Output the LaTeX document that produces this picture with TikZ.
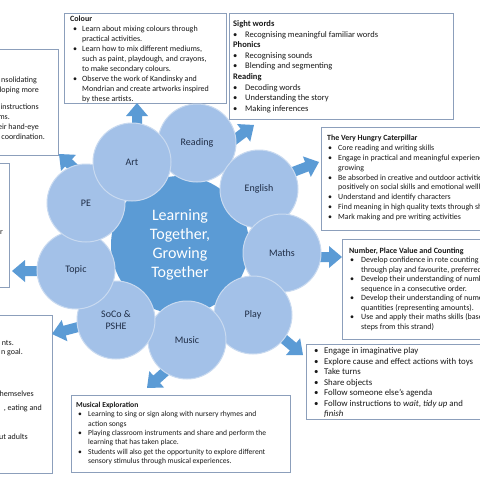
\documentclass[tikz,border=0pt]{standalone}
\usepackage{fontspec}
\setmainfont{Carlito}
\definecolor{boxline}{HTML}{8C9FBB}
\definecolor{arrowc}{HTML}{5B9BD5}
\definecolor{bigc}{HTML}{5B9BD5}
\definecolor{smallc}{HTML}{A3C1E8}
\definecolor{smallline}{HTML}{C9DAF0}
\definecolor{lbl}{HTML}{1F2D46}
\newcommand\Bul[2]{\hspace*{#1}\makebox[#2][l]{\textbullet}}
\newcommand\Ind[1]{\hspace*{#1}}
\tikzset{
 frame/.style={draw=boxline, line width=0.9pt, fill=white, inner sep=0, anchor=north west},
 txt/.style={anchor=north west, inner sep=0, align=left, text=black!90},
 frag/.style={anchor=base east, inner sep=0, text=black!90, font=\fontsize{8}{10}\selectfont},
 petal/.style={circle, minimum size=78pt, inner sep=0, fill=smallc, draw=smallline, line width=1pt, text=lbl, font=\fontsize{10}{11.5}\selectfont, align=center},
 hub/.style={circle, minimum size=138pt, inner sep=0, fill=bigc, text=white, font=\fontsize{16}{19}\selectfont, align=center},
 pics/barrow/.style={code={\fill[arrowc] (-#1,-5) -- (-13,-5) -- (-13,-11) -- (0,0) -- (-13,11) -- (-13,5) -- (-#1,5) -- cycle;}},
}
\begin{document}
\begin{tikzpicture}[x=1pt,y=-1pt]
\useasboundingbox (0,0) rectangle (480,480);
\clip (0,0) rectangle (480,480);
\fill[white] (0,0) rectangle (480,480);

% ---------- boxes ----------
\node[frame, minimum width=68pt, minimum height=106pt] (peBox) at (-10,49) {};
\node[frame, minimum width=19pt, minimum height=124pt] (topicBox) at (-10,163) {};
\node[frame, minimum width=62pt, minimum height=158pt] (socoBox) at (-10,315) {};
\node[frame, minimum width=162pt, minimum height=90pt] (colourBox) at (64,13) {};
\node[frame, minimum width=224pt, minimum height=106pt] (readBox) at (229,13) {};
\node[frame, minimum width=169pt, minimum height=103pt] (engBox) at (321,127) {};
\node[frame, minimum width=148pt, minimum height=100pt] (mathsBox) at (342,239) {};
\node[frame, minimum width=184pt, minimum height=75pt] (playBox) at (306,344) {};
\node[frame, minimum width=219pt, minimum height=77pt] (musicBox) at (71,395) {};

% ---------- box texts ----------
\node[frag] (pe1) at (37,82.5) {nsolidating};
\node[frag] (pe2) at (39,92) {loping more};
\node[frag] (pe3) at (39,109.5) {instructions};
\node[frag] (pe4) at (10,119) {ms.};
\node[frag] (pe5) at (39,129) {eir hand-eye};
\node[frag] (pe6) at (45,139) {coordination.};
\node[frag] (tp1) at (3,234.5) {r};
\node[frag] (sc1) at (14,345.5) {nts.};
\node[frag] (sc2) at (23,354.5) {n goal.};
\node[frag] (sc3) at (34,396.5) {hemselves};
\node[frag] (sc4) at (42,410.5) {, eating and};
\node[frag] (sc5) at (28,439.5) {ut adults};

\node[txt, font=\fontsize{8}{10}\selectfont] (colourTxt) at (70,15.6) {%
\textbf{Colour}\\
\Bul{3pt}{9pt}Learn about mixing colours through\\
\Ind{12pt}practical activities.\\
\Bul{3pt}{9pt}Learn how to mix different mediums,\\
\Ind{12pt}such as paint, playdough, and crayons,\\
\Ind{12pt}to make secondary colours.\\
\Bul{3pt}{9pt}Observe the work of Kandinsky and\\
\Ind{12pt}Mondrian and create artworks inspired\\
\Ind{12pt}by these artists.};

\node[txt, font=\fontsize{8.5}{10.6}\selectfont] (readTxt) at (233,20.4) {%
\textbf{Sight words}\\
\Bul{0pt}{12pt}Recognising meaningful familiar words\\
\textbf{Phonics}\\
\Bul{0pt}{12pt}Recognising sounds\\
\Bul{0pt}{12pt}Blending and segmenting\\
\textbf{Reading}\\
\Bul{0pt}{12pt}Decoding words\\
\Bul{0pt}{12pt}Understanding the story\\
\Bul{0pt}{12pt}Making inferences};

\node[txt, font=\fontsize{7.9}{9.9}\selectfont] (engTxt) at (327,134.7) {%
\textbf{The Very Hungry Caterpillar}\\
\Bul{1pt}{10pt}Core reading and writing skills\\
\Bul{1pt}{10pt}Engage in practical and meaningful experiences related to\\
\Ind{11pt}growing\\
\Bul{1pt}{10pt}Be absorbed in creative and outdoor activities which impact\\
\Ind{11pt}positively on social skills and emotional wellbeing\\
\Bul{1pt}{10pt}Understand and identify characters\\
\Bul{1pt}{10pt}Find meaning in high quality texts through shared reading\\
\Bul{1pt}{10pt}Mark making and pre writing activities};

\node[txt, font=\fontsize{8}{9.5}\selectfont] (mathsTxt) at (349,247.6) {%
\textbf{Number, Place Value and Counting}\\
\Bul{1pt}{11pt}Develop confidence in rote counting\\
\Ind{12pt}through play and favourite, preferred activities\\
\Bul{1pt}{11pt}Develop their understanding of number\\
\Ind{12pt}sequence in a consecutive order.\\
\Bul{1pt}{11pt}Develop their understanding of numerical\\
\Ind{12pt}quantities (representing amounts).\\
\Bul{1pt}{11pt}Use and apply their maths skills (based on\\
\Ind{12pt}steps from this strand)};

\node[txt, font=\fontsize{8.8}{10.5}\selectfont] (playTxt) at (314,347.3) {%
\Bul{0pt}{10pt}Engage in imaginative play\\
\Bul{0pt}{10pt}Explore cause and effect actions with toys\\
\Bul{0pt}{10pt}Take turns\\
\Bul{0pt}{10pt}Share objects\\
\Bul{0pt}{10pt}Follow someone else’s agenda\\
\Bul{0pt}{10pt}Follow instructions to \textit{wait}, \textit{tidy up} and\\
\Ind{10pt}\textit{finish}};

\node[txt, font=\fontsize{7.6}{9.33}\selectfont] (musicTxt) at (76,401.8) {%
\textbf{Musical Exploration}\\
\Bul{2pt}{10pt}Learning to sing or sign along with nursery rhymes and\\
\Ind{12pt}action songs\\
\Bul{2pt}{10pt}Playing classroom instruments and share and perform the\\
\Ind{12pt}learning that has taken place.\\
\Bul{2pt}{10pt}Students will also get the opportunity to explore different\\
\Ind{12pt}sensory stimulus through musical experiences.};

% ---------- arrows ----------
\pic[rotate=90] at (137,103) {barrow=26};
\pic[rotate=37] at (254,125) {barrow=30};
\pic[rotate=21] at (319,162) {barrow=30};
\pic[rotate=0] at (342,257) {barrow=28};
\pic[rotate=-40] at (303,355) {barrow=28};
\pic[rotate=-138] at (147,388) {barrow=28};
\pic[rotate=195] at (52,334) {barrow=30};
\pic[rotate=180] at (12,271) {barrow=28};
\pic[rotate=137] at (59,154) {barrow=26};

% ---------- circles ----------
\node[hub] (hub) at (180,245) {Learning\\Together,\\Growing\\Together};
\node[petal] (reading) at (197,143) {Reading};
\node[petal] (english) at (259,189) {English};
\node[petal] (maths) at (282,253) {Maths};
\node[petal] (play) at (253,315) {Play};
\node[petal] (music) at (187,340) {Music};
\node[petal] (soco) at (116,320) {SoCo \&\\PSHE};
\node[petal] (topic) at (76,270) {Topic};
\node[petal] (pe) at (86,203) {PE};
\node[petal] (art) at (132,162) {Art};
\end{tikzpicture}
\end{document}
